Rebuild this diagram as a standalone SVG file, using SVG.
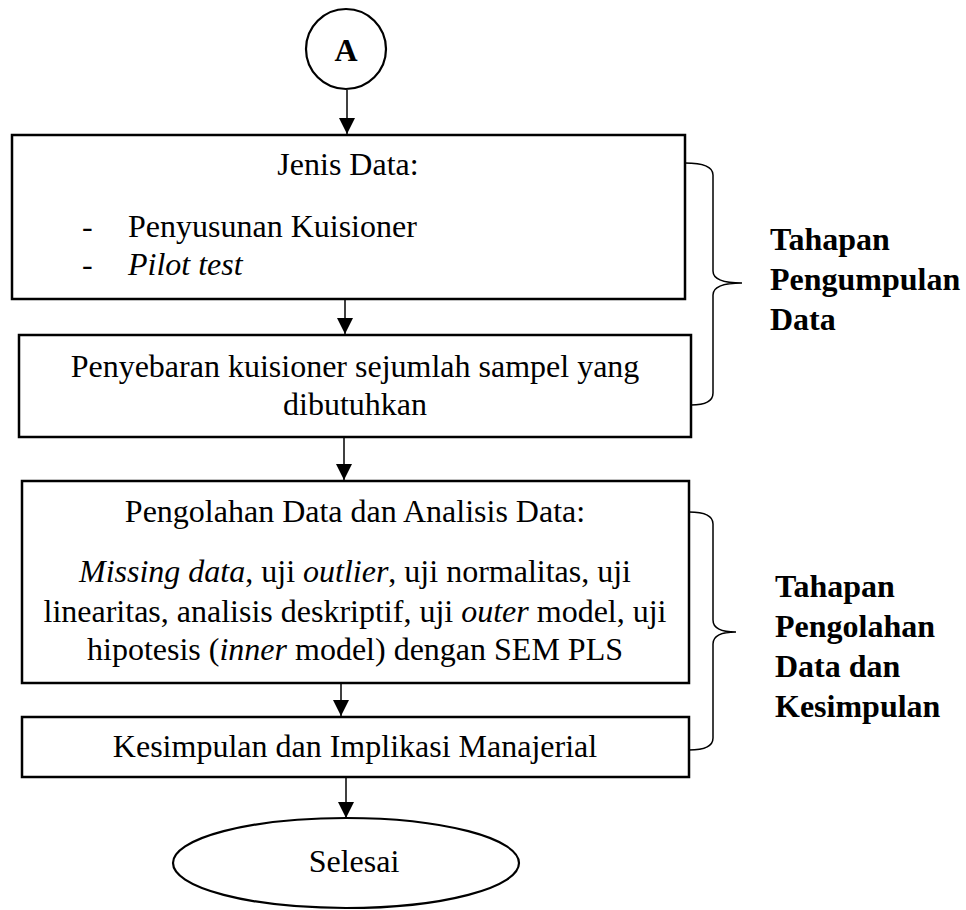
<svg xmlns="http://www.w3.org/2000/svg" width="966" height="910" viewBox="0 0 966 910">
  <style>
    .box { fill: #fff; stroke: #000; stroke-width: 2.5; }
    .term { fill: #fff; stroke: #000; stroke-width: 2.2; }
    .flow { stroke: #000; stroke-width: 1.5; fill: none; }
    .brace { stroke: #000; stroke-width: 1.5; fill: none; }
    text { font-family: "Liberation Serif", "Times New Roman", serif; font-size: 32px; fill: #000; }
    .c { text-anchor: middle; }
    .b { font-weight: bold; }
    .i { font-style: italic; }
  </style>
  <defs>
    <marker id="arrow" markerUnits="userSpaceOnUse" markerWidth="16" markerHeight="16" refX="16" refY="8" orient="auto">
      <path d="M0,0 L16,8 L0,16 z" fill="#000"/>
    </marker>
  </defs>

  <!-- connectors -->
  <g id="connectors">
    <line class="flow" x1="347" y1="90" x2="347" y2="134" marker-end="url(#arrow)"/>
    <line class="flow" x1="345" y1="294" x2="345" y2="334" marker-end="url(#arrow)"/>
    <line class="flow" x1="344" y1="437" x2="344" y2="480" marker-end="url(#arrow)"/>
    <line class="flow" x1="341" y1="683" x2="341" y2="716" marker-end="url(#arrow)"/>
    <line class="flow" x1="346" y1="777" x2="346" y2="818" marker-end="url(#arrow)"/>
  </g>

  <!-- connector A -->
  <g id="start-a">
    <circle class="term" cx="346" cy="49" r="40"/>
    <text class="c b" x="346" y="61">A</text>
  </g>

  <!-- data types -->
  <g id="jenis-data">
    <rect class="box" x="12" y="135" width="673" height="164"/>
    <text class="c" x="348" y="175">Jenis Data:</text>
    <text x="82" y="237">-</text>
    <text x="128" y="237">Penyusunan Kuisioner</text>
    <text x="82" y="275">-</text>
    <text class="i" x="128" y="275">Pilot test</text>
  </g>

  <!-- questionnaire distribution -->
  <g id="penyebaran">
    <rect class="box" x="19" y="335" width="672" height="102"/>
    <text class="c" x="355" y="377">Penyebaran kuisioner sejumlah sampel yang</text>
    <text class="c" x="355" y="415">dibutuhkan</text>
  </g>

  <!-- processing and analysis -->
  <g id="pengolahan">
    <rect class="box" x="22" y="481" width="667" height="202"/>
    <text class="c" x="355" y="522">Pengolahan Data dan Analisis Data:</text>
    <text class="c" x="355" y="582"><tspan class="i">Missing data</tspan>, uji <tspan class="i">outlier</tspan>, uji normalitas, uji</text>
    <text class="c" x="355" y="622">linearitas, analisis deskriptif, uji <tspan class="i">outer</tspan> model, uji</text>
    <text class="c" x="355" y="660">hipotesis (<tspan class="i">inner</tspan> model) dengan SEM PLS</text>
  </g>

  <!-- conclusion -->
  <g id="kesimpulan">
    <rect class="box" x="22" y="717" width="667" height="60"/>
    <text class="c" x="355" y="757">Kesimpulan dan Implikasi Manajerial</text>
  </g>

  <!-- end terminator -->
  <g id="selesai">
    <ellipse class="term" cx="346" cy="863" rx="173" ry="45"/>
    <text class="c" x="354" y="872">Selesai</text>
  </g>

  <!-- stage brace: data collection -->
  <g id="tahap-pengumpulan">
    <path class="brace" d="M685,163 Q713,163 713,175 L713,271 Q713,283 742,283 Q713,283 713,295 L713,393 Q713,405 691,405"/>
    <text class="b" x="770" y="250">Tahapan</text>
    <text class="b" x="770" y="290">Pengumpulan</text>
    <text class="b" x="770" y="330">Data</text>
  </g>

  <!-- stage brace: processing and conclusion -->
  <g id="tahap-pengolahan">
    <path class="brace" d="M689,512 Q713,512 713,524 L713,620 Q713,632 736,632 Q713,632 713,644 L713,738 Q713,750 689,750"/>
    <text class="b" x="775" y="597">Tahapan</text>
    <text class="b" x="775" y="637">Pengolahan</text>
    <text class="b" x="775" y="677">Data dan</text>
    <text class="b" x="775" y="717">Kesimpulan</text>
  </g>
</svg>
